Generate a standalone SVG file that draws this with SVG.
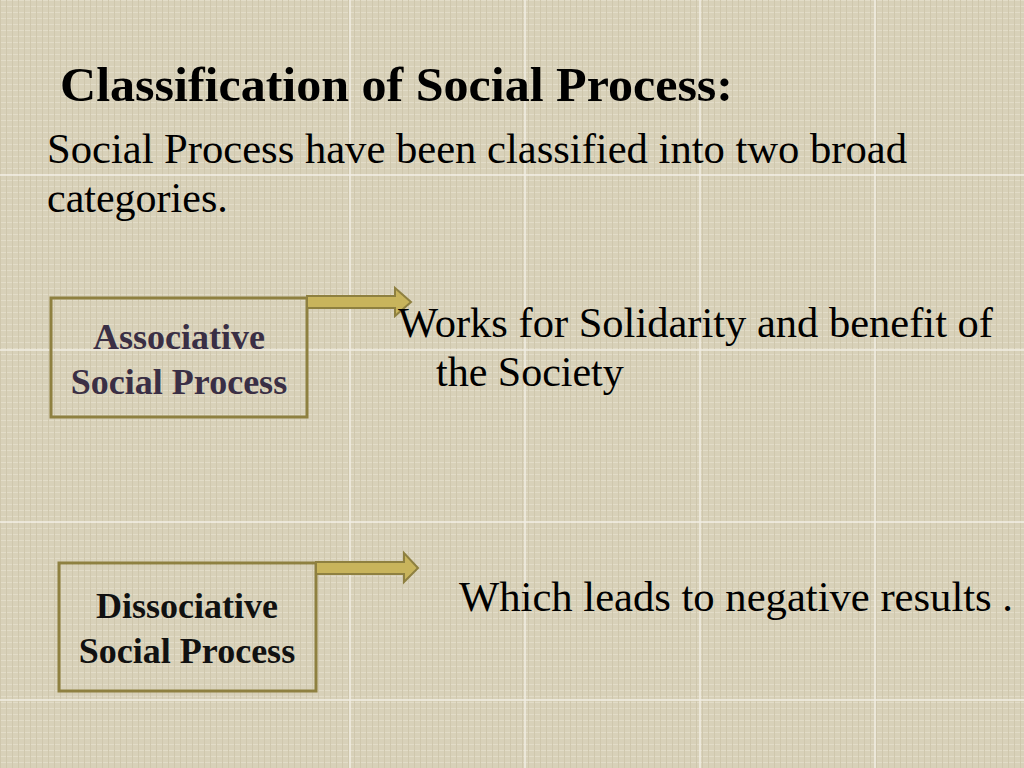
<svg xmlns="http://www.w3.org/2000/svg" width="1024" height="768" viewBox="0 0 1024 768">
<defs>
<pattern id="weave" width="6" height="6" patternUnits="userSpaceOnUse">
<rect width="6" height="6" fill="#d8d1b9"/>
<rect width="6" height="1" fill="#e2dcc8"/>
<rect width="1" height="6" fill="#cfc7ad"/>
</pattern>
</defs>
<style>
.title{font-family:"Liberation Serif",serif;font-weight:bold;font-size:49px;fill:#000}
.body{font-family:"Liberation Serif",serif;font-size:42px;fill:#000}
.box{fill:none;stroke:#8e8040;stroke-width:3}
.lbl{font-family:"Liberation Serif",serif;font-weight:bold;font-size:36px;text-anchor:middle}
.arrow{fill:#c8b45c;stroke:#8e8040;stroke-width:2;stroke-linejoin:miter}
.grid{stroke:#f2eee4;stroke-width:1.5}
</style>
<rect width="1024" height="768" fill="url(#weave)"/>
<g class="grid">
<line x1="350" y1="0" x2="350" y2="768"/>
<line x1="525" y1="0" x2="525" y2="768"/>
<line x1="700" y1="0" x2="700" y2="768"/>
<line x1="875" y1="0" x2="875" y2="768"/>
<line x1="0" y1="175" x2="1024" y2="175"/>
<line x1="0" y1="350" x2="1024" y2="350"/>
<line x1="0" y1="522" x2="1024" y2="522"/>
<line x1="0" y1="700" x2="1024" y2="700"/>
</g>
<text class="title" x="60" y="101" textLength="673" lengthAdjust="spacingAndGlyphs">Classification of Social Process:</text>
<text class="body" x="47" y="163" textLength="860" lengthAdjust="spacingAndGlyphs">Social Process have been classified into two broad</text>
<text class="body" x="47" y="212">categories.</text>
<g id="associative">
<rect class="box" x="51" y="298" width="256" height="119"/>
<text class="lbl" x="179" y="349" fill="#3a2f45">Associative</text>
<text class="lbl" x="179" y="394" fill="#3a2f45">Social Process</text>
</g>
<g id="dissociative">
<rect class="box" x="59" y="563" width="257" height="128"/>
<text class="lbl" x="187" y="618" fill="#111">Dissociative</text>
<text class="lbl" x="187" y="663" fill="#111">Social Process</text>
</g>
<g id="connectors">
<path class="arrow" d="M307,296 H395 V288 L411,302 L395,316 V308 H307 Z"/>
<path class="arrow" d="M316,562 H404 V553 L418,568 L404,582 V574 H316 Z"/>
</g>
<g id="desc1">
<text class="body" x="398" y="337" textLength="595" lengthAdjust="spacingAndGlyphs">Works for Solidarity and benefit of</text>
<text class="body" x="436" y="386">the Society</text>
</g>
<g id="desc2">
<text class="body" x="459" y="611" textLength="554" lengthAdjust="spacingAndGlyphs">Which leads to negative results .</text>
</g>
</svg>
